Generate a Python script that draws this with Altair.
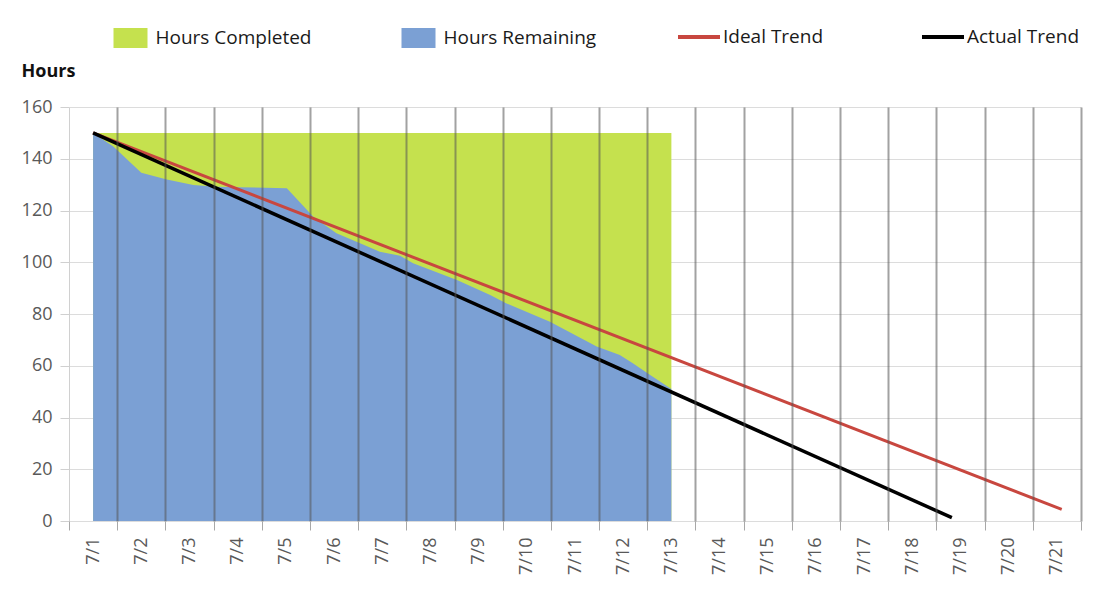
import altair as alt
import pandas as pd

# ---------------- data ----------------
days = list(range(1, 22))                      # 7/1 .. 7/21
boundaries = [d - 0.5 for d in days] + [21.5]  # day band edges (vertical grid)

# Hours Remaining outline (day position, hours)
remain_day = [1.0, 1.42, 2.0, 2.53, 3.08, 3.56, 4.0, 5.02, 5.57, 6.05, 6.54,
              6.95, 7.37, 7.64, 8.55, 9.24, 9.58, 10.48, 11.45, 11.93, 12.2,
              12.56, 13.0]
remain_hours = [150, 144.7, 134.6, 132.0, 129.9, 129.2, 129.0, 128.6, 117.6,
                111.2, 107.3, 104.1, 102.5, 99.6, 93.1, 87.3, 84.1, 77.0, 67.4,
                64.2, 61.0, 56.4, 51.0]

# total (Hours Completed stacked on Remaining)
total_day = [1.0, 13.0]
total_hours = [150, 150]

# trend lines
ideal_day = [1.0, 21.1]
ideal_hours = [150, 4.5]
actual_day = [1.0, 18.82]
actual_hours = [150, 1.3]

series_area = ["Hours Completed", "Hours Remaining"]
series_line = ["Ideal Trend", "Actual Trend"]

df_total = pd.DataFrame({"day": total_day, "hours": total_hours, "series": series_area[0]})
df_remain = pd.DataFrame({"day": remain_day, "hours": remain_hours, "series": series_area[1]})
df_ideal = pd.DataFrame({"day": ideal_day, "hours": ideal_hours, "series": series_line[0]})
df_actual = pd.DataFrame({"day": actual_day, "hours": actual_hours, "series": series_line[1]})

FONT = "Open Sans"
GREEN = "#c5e14e"
BLUE = "#7ba0d4"
RED = "#c8473f"
BLACK = "#000000"

xs = alt.Scale(domain=[0.5, 21.5], nice=False, zero=False)
ys = alt.Scale(domain=[0, 160], nice=False)

grid_axis = alt.Axis(
    values=boundaries, labels=False, title=None, domain=False,
    grid=True, gridColor="#555555", gridWidth=2,
    gridOpacity={"condition": {"test": "datum.value < 1", "value": 0}, "value": 0.55},
    ticks=True, tickColor="#a8a8a8", tickSize=9, tickWidth=1,
    zindex=1, orient="bottom",
)
label_axis = alt.Axis(
    values=days, labelExpr="'7/' + datum.value", labelAngle=-90,
    labelPadding=16, ticks=False, tickSize=0, domain=False, grid=False,
    title=None, labelFont=FONT, labelFontSize=18, labelColor="#595959",
    orient="bottom",
)
y_axis = alt.Axis(
    values=list(range(0, 161, 20)), title="Hours", titleAngle=0,
    titleX=-48, titleY=-31, titleAlign="left", titleBaseline="alphabetic",
    titleFont=FONT, titleFontSize=18, titleFontWeight="bold", titleColor="#111111",
    grid=True, gridColor="#dcdcdc", gridWidth=1,
    domainColor="#d0d0d0", tickColor="#d0d0d0", tickSize=9,
    labelPadding=8, labelFont=FONT, labelFontSize=18, labelColor="#595959",
)

fill_scale = alt.Scale(domain=series_area, range=[GREEN, BLUE])
stroke_scale = alt.Scale(domain=series_line, range=[RED, BLACK])

fill_legend = alt.Legend(
    orient="none", legendX=51.5, legendY=-79, direction="horizontal", columns=2,
    title=None, symbolType="M-1.7,-1H1.7V1H-1.7Z", symbolSize=400,
    symbolStrokeWidth=0, labelOffset=15, columnPadding=90,
    labelFont=FONT, labelFontSize=19, labelColor="#1a1a1a", padding=0,
)
stroke_legend = alt.Legend(
    orient="none", legendX=607, legendY=-93, direction="horizontal", columns=2,
    title=None, symbolType="stroke", symbolSize=1764, symbolStrokeWidth=4,
    labelOffset=1, columnPadding=90,
    labelFont=FONT, labelFontSize=19, labelColor="#1a1a1a", padding=0,
)

y_enc = alt.Y("hours:Q", scale=ys, axis=y_axis)

green = alt.Chart(df_total).mark_area(opacity=1).encode(
    x=alt.X("day:Q", scale=xs, axis=grid_axis),
    y=y_enc,
    fill=alt.Fill("series:N", scale=fill_scale, legend=fill_legend),
)
blue = alt.Chart(df_remain).mark_area(opacity=1).encode(
    x=alt.X("day:Q", scale=xs, axis=None),
    y=y_enc,
    fill=alt.Fill("series:N", scale=fill_scale, legend=fill_legend),
)
ideal = alt.Chart(df_ideal).mark_line(strokeWidth=3).encode(
    x=alt.X("day:Q", scale=xs, axis=None),
    y=y_enc,
    stroke=alt.Stroke("series:N", scale=stroke_scale, legend=stroke_legend),
)
actual = alt.Chart(df_actual).mark_line(strokeWidth=3.5).encode(
    x=alt.X("day:Q", scale=xs, axis=label_axis),
    y=y_enc,
    stroke=alt.Stroke("series:N", scale=stroke_scale, legend=stroke_legend),
)

chart = (
    alt.layer(green, blue, ideal, actual)
    .resolve_axis(x="independent")
    .properties(
        width=1012, height=414,
        autosize=alt.AutoSizeParams(type="none"),
        padding={"left": 61, "top": 99, "right": 20, "bottom": 66},
        background="white",
    )
    .configure_view(strokeWidth=0)
)

chart.save("out.html", embed_options={"renderer": "svg", "actions": False})
